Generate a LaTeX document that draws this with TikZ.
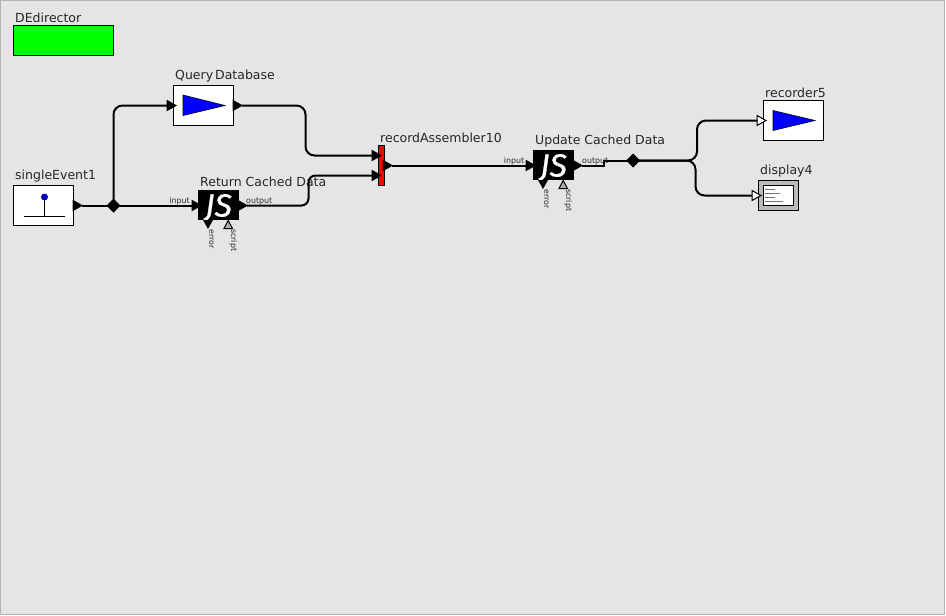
\documentclass[tikz,border=0pt]{standalone}
\usepackage{fontspec}
\setmainfont{DejaVu Sans}
\newfontfamily\jsfont[ItalicFeatures={FakeBold=0.8}]{Fira Sans}
\usetikzlibrary{shapes.geometric}
\definecolor{canvas}{HTML}{E5E5E5}
\definecolor{frameline}{HTML}{B4B4B4}
\definecolor{labelgrey}{HTML}{2A2A2A}
\tikzset{
  x=1pt,y=-1pt,
  actorbox/.style={draw=black,line width=1pt,outer sep=0pt,fill=white,inner sep=0pt,anchor=north west,minimum width=60pt,minimum height=40pt},
  jsbox/.style={fill=black,outer sep=0pt,inner sep=0pt,anchor=north west,minimum width=41pt,minimum height=30pt,text=white,font=\jsfont\fontsize{32}{32}\selectfont\itshape},
  caption/.style={inner sep=0pt,anchor=base west,font=\fontsize{12.5}{12.5}\selectfont,text=black!85},
  tiny/.style={inner sep=0pt,font=\fontsize{7.9}{8}\selectfont,text=labelgrey},
  wire/.style={draw=black,line width=2pt,rounded corners=9pt},
  junction/.style={diamond,fill=black,inner sep=0pt,outer sep=0pt,minimum width=14pt,minimum height=14pt},
  porttip/.style={line width=1pt,draw=black,line join=miter},
}
\newcommand{\rport}[4]{% x y fill name: right-pointing port, tip at x
  \coordinate (#4) at (#1,#2);
  \path[porttip,fill=#3] (#1-9,#2-5) -- (#1,#2) -- (#1-9,#2+5) -- cycle;}
\begin{document}
\begin{tikzpicture}
\useasboundingbox (0,0) rectangle (946,616);
\path[fill=white] (0,0) rectangle (946,616);
\path[fill=canvas,draw=frameline,line width=1pt] (0.5,0.5) rectangle (944.5,614.5);

% director
\node[actorbox,fill=green,minimum width=100pt,minimum height=30pt] (director) at (13.5,25.5) {};
\node[caption] (directorlabel) at (15,22) {DEdirector};

% captions
\node[caption] (querylabel) at (175,79) {Query\hspace{2pt}Database};
\node[caption] (eventlabel) at (15,179) {singleEvent1};
\node[caption] (returnlabel) at (200,186) {Return Cached Data};
\node[caption] (assemblerlabel) at (380,142) {recordAssembler10};
\node[caption] (updatelabel) at (535,144) {Update Cached Data};
\node[caption] (recorderlabel) at (765,97) {recorder5};
\node[caption] (displaylabel) at (760,174) {display4};

% actors
\node[actorbox] (query) at (173.5,85.5) {};
\path[fill=blue,draw=black,line width=.6pt] (183,95) -- (225,105.5) -- (183,115.5) -- cycle;
\node[actorbox] (event) at (13.5,185.5) {};
\draw[line width=1pt] (24,216.5) -- (65,216.5);
\draw[line width=1pt] (44.5,216.5) -- (44.5,197);
\path[fill=blue!70!black] (44.5,197) circle (3.5);
\node[jsbox] (jsreturn) at (198,190) {\raisebox{-11.5pt}[0pt][0pt]{JS}};
\node[jsbox] (jsupdate) at (533,150) {\raisebox{-11.5pt}[0pt][0pt]{JS}};
\node[draw=black,fill=red,line width=1pt,outer sep=0pt,inner sep=0pt,anchor=north west,minimum width=6pt,minimum height=40pt] (assembler) at (378.5,145.5) {};
\node[actorbox] (recorder) at (763.5,100.5) {};
\path[fill=blue,draw=black,line width=.6pt] (773,110.5) -- (815,120.5) -- (773,130.5) -- cycle;
\node[actorbox,fill=black!27,minimum width=40pt,minimum height=30pt] (display) at (758.5,180.5) {};
\node[actorbox,minimum width=30pt,minimum height=20pt] (displayscreen) at (763.5,185.5) {};
\draw[black!55,line width=.8pt] (765,189) -- (775,189) (765,193) -- (780,193) (765,197) -- (775,197) (765,201) -- (783,201);

% small port labels
\node[tiny,anchor=base east] (input1) at (190,203) {input};
\node[tiny,anchor=base west] (output1) at (246,203) {output};
\node[tiny,anchor=base east] (input2) at (524.5,163) {input};
\node[tiny,anchor=base west] (output2) at (582,163) {output};
\node[tiny,rotate=-90,anchor=base west] (error1) at (209,229) {error};
\node[tiny,rotate=-90,anchor=base west] (script1) at (231,229) {script};
\node[tiny,rotate=-90,anchor=base west] (error2) at (544,189) {error};
\node[tiny,rotate=-90,anchor=base west] (script2) at (566,189) {script};

% junctions
\node[junction] (split1) at (113.5,205.5) {};
\node[junction] (split2) at (633,160.5) {};

% ports
\rport{82}{205.5}{black}{eventout}
\rport{176}{105.5}{black}{queryin}
\rport{242}{105.5}{black}{queryout}
\rport{201}{205.5}{black}{jsretin}
\rport{247}{205.5}{black}{jsretout}
\rport{381}{155.5}{black}{asmina}
\rport{381}{175.5}{black}{asminb}
\rport{392}{165.5}{black}{asmout}
\rport{535}{165.5}{black}{jsupin}
\rport{582}{165.5}{black}{jsupout}
\rport{766}{120.5}{white}{recin}
\rport{761}{195.5}{white}{dispin}
\path[fill=black] (203,220) -- (213,220) -- (208,229) -- cycle;
\path[fill=black] (538,180) -- (548,180) -- (543,189) -- cycle;
\path[fill=black!30,draw=black,line width=1pt] (224,228.5) -- (232.5,228.5) -- (228.2,220.5) -- cycle;
\path[fill=black!30,draw=black,line width=1pt] (559,188.5) -- (567.5,188.5) -- (563.2,180.5) -- cycle;

% wires
\path[wire] (eventout) -- (split1.center);
\path[wire] (split1.center) -- ([xshift=-8pt]jsretin);
\path[wire] (split1.center) -- (113.5,105.5) -- ([xshift=-8pt]queryin);
\path[wire] (queryout) -- (305.5,105.5) -- (305.5,155.5) -- ([xshift=-8pt]asmina);
\path[wire,rounded corners=7pt] (jsretout) -- (308.5,205.5) -- (308.5,175.5) -- ([xshift=-8pt]asminb);
\path[wire] (asmout) -- ([xshift=-8pt]jsupin);
\path[wire,rounded corners=0pt] (jsupout) -- (604,165.5) -- (604,160.5) -- (split2.center);
\path[wire] (split2.center) -- (697,160.5) -- (697,120.5) -- ([xshift=-9pt]recin);
\path[wire] (split2.center) -- (695.5,160.5) -- (695.5,195.5) -- ([xshift=-9pt]dispin);
\end{tikzpicture}
\end{document}
